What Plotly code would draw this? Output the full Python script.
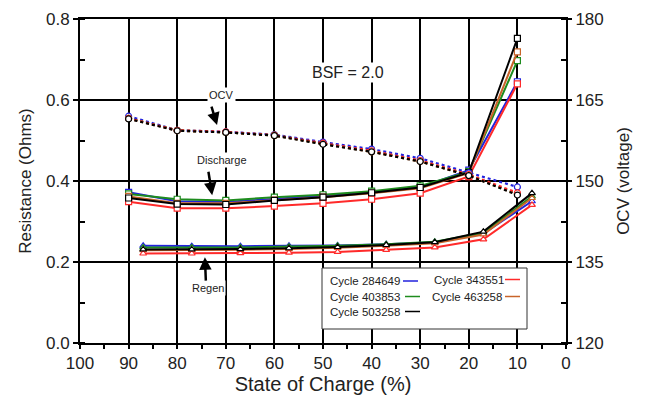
import plotly.graph_objects as go

soc_dis = [90, 80, 70, 60, 50, 40, 30, 20, 10]
soc_regen = [87, 77, 67, 57, 47, 37, 27, 17, 7]
cycles = ["Cycle 284649", "Cycle 343551", "Cycle 403853", "Cycle 463258", "Cycle 503258"]
colors = ["#2222dd", "#ff2a2a", "#1e8c1e", "#c8642a", "#000000"]

discharge = {
    "Cycle 284649": [0.372, 0.350, 0.348, 0.356, 0.363, 0.372, 0.384, 0.427, 0.645],
    "Cycle 343551": [0.349, 0.333, 0.333, 0.338, 0.345, 0.355, 0.370, 0.411, 0.640],
    "Cycle 403853": [0.368, 0.355, 0.352, 0.360, 0.366, 0.375, 0.388, 0.423, 0.697],
    "Cycle 463258": [0.362, 0.345, 0.345, 0.353, 0.360, 0.370, 0.382, 0.420, 0.719],
    "Cycle 503258": [0.358, 0.343, 0.342, 0.352, 0.360, 0.371, 0.384, 0.421, 0.752],
}
regen = {
    "Cycle 284649": [0.240, 0.239, 0.239, 0.240, 0.241, 0.244, 0.249, 0.270, 0.350],
    "Cycle 343551": [0.221, 0.221, 0.222, 0.223, 0.225, 0.230, 0.236, 0.256, 0.341],
    "Cycle 403853": [0.236, 0.236, 0.236, 0.238, 0.240, 0.244, 0.250, 0.272, 0.362],
    "Cycle 463258": [0.229, 0.229, 0.230, 0.232, 0.235, 0.240, 0.246, 0.268, 0.358],
    "Cycle 503258": [0.231, 0.231, 0.232, 0.234, 0.237, 0.242, 0.249, 0.275, 0.370],
}
ocv = {
    "Cycle 284649": [162.0, 159.4, 159.1, 158.6, 157.2, 155.9, 154.2, 151.5, 148.9],
    "Cycle 343551": [161.6, 159.4, 159.1, 158.5, 157.0, 155.6, 153.8, 151.2, 147.8],
    "Cycle 403853": [161.6, 159.4, 159.0, 158.5, 156.9, 155.5, 153.7, 151.1, 147.6],
    "Cycle 463258": [161.6, 159.3, 159.0, 158.4, 156.9, 155.4, 153.6, 151.0, 147.5],
    "Cycle 503258": [161.5, 159.3, 159.0, 158.4, 156.8, 155.4, 153.6, 151.0, 147.4],
}

x_ticks = [100, 90, 80, 70, 60, 50, 40, 30, 20, 10, 0]
y_ticks = [0.0, 0.2, 0.4, 0.6, 0.8]
y2_ticks = [120, 135, 150, 165, 180]

FONT = "Liberation Sans, Arial, Helvetica, sans-serif"

fig = go.Figure()

order = [0, 2, 3, 1, 4]
for i in order:
    c = cycles[i]
    col = colors[i]
    fig.add_trace(go.Scatter(
        x=soc_dis, y=ocv[c], yaxis="y2", mode="lines+markers",
        line=dict(color=col, width=2.2, dash="dot"),
        marker=dict(symbol="circle", size=6, color="white", line=dict(color=col, width=1.2)),
        showlegend=False))
for i in order:
    c = cycles[i]
    col = colors[i]
    fig.add_trace(go.Scatter(
        x=soc_dis, y=discharge[c], mode="lines+markers",
        line=dict(color=col, width=2),
        marker=dict(symbol="square", size=6, color="white", line=dict(color=col, width=1.2)),
        showlegend=False))
    fig.add_trace(go.Scatter(
        x=soc_regen, y=regen[c], mode="lines+markers",
        line=dict(color=col, width=2),
        marker=dict(symbol="triangle-up", size=6, color="white", line=dict(color=col, width=1.2)),
        showlegend=False))

# Text labels
txt = dict(font=dict(family=FONT, size=11, color="#222"), showarrow=False,
           bgcolor="white", borderpad=1)
fig.add_annotation(x=70.8, y=0.612, text="OCV", **txt)
fig.add_annotation(x=70.8, y=0.452, text="Discharge", **txt)
fig.add_annotation(x=73.7, y=0.136, text="Regen", **txt)
fig.add_annotation(x=44.9, y=0.667, text="BSF = 2.0",
                   font=dict(family=FONT, size=16, color="#222"), showarrow=False,
                   bgcolor="white", borderpad=1)

arr = dict(text="", showarrow=True, arrowhead=2, arrowsize=1, arrowwidth=2.5, arrowcolor="black")
fig.add_annotation(x=71.8, y=0.538, ax=-6, ay=-20, **arr)
fig.add_annotation(x=72.8, y=0.365, ax=-4, ay=-25, **arr)
fig.add_annotation(x=74.3, y=0.212, ax=1, ay=25, **arr)

# Manual legend (paper coordinates; plot area 80..566 x 19..343 px)
def px(xp):
    return (xp - 80) / 486.0
def py(yp):
    return (343 - yp) / 324.0

fig.add_shape(type="rect", xref="paper", yref="paper",
              x0=px(322), x1=px(527), y0=py(329), y1=py(268),
              line=dict(color="#333", width=1), fillcolor="white", layer="above")
leg_items = [
    ("Cycle 284649", colors[0], 328, 281, 403, 418),
    ("Cycle 403853", colors[2], 328, 296.5, 405, 420),
    ("Cycle 503258", colors[4], 328, 311.5, 405, 420),
    ("Cycle 343551", colors[1], 432, 279.5, 505, 520),
    ("Cycle 463258", colors[3], 430, 296.5, 505, 520),
]
for name, col, tx, ty, lx0, lx1 in leg_items:
    fig.add_annotation(xref="paper", yref="paper", x=px(tx), y=py(ty), text=name,
                       xanchor="left", yanchor="middle", showarrow=False,
                       font=dict(family=FONT, size=11.5, color="#222"))
    fig.add_shape(type="line", xref="paper", yref="paper",
                  x0=px(lx0), x1=px(lx1), y0=py(ty), y1=py(ty),
                  line=dict(color=col, width=1.5), layer="above")

fig.update_layout(
    width=649, height=397,
    margin=dict(l=80, r=83, t=19, b=54),
    paper_bgcolor="white", plot_bgcolor="white",
    font=dict(family=FONT, size=14, color="#222"),
    showlegend=False,
    xaxis=dict(
        range=[100, 0], tickmode="array", tickvals=x_ticks,
        ticktext=[str(v) for v in x_ticks], automargin=False,
        showgrid=True, gridcolor="black", gridwidth=2,
        showline=True, linecolor="black", linewidth=2, mirror=True,
        ticks="outside", ticklen=4, tickwidth=1.5, tickcolor="black",
        minor=dict(dtick=5, tick0=0, ticks="outside", ticklen=4, tickwidth=1.5,
                   tickcolor="black", showgrid=False),
        zeroline=False,
        title=dict(text="State of Charge (%)", font=dict(size=20), standoff=5),
        tickfont=dict(size=17),
    ),
    yaxis=dict(
        range=[0, 0.8], tickmode="array", tickvals=y_ticks,
        ticktext=["0.0", "0.2", "0.4", "0.6", "0.8"], automargin=False,
        showgrid=True, gridcolor="black", gridwidth=2,
        showline=True, linecolor="black", linewidth=2, mirror=True,
        ticks="outside", ticklen=5, tickwidth=1.5, tickcolor="black",
        minor=dict(dtick=0.1, tick0=0, ticks="inside", ticklen=5, tickwidth=1.5,
                   tickcolor="black", showgrid=False),
        zeroline=False,
        title=dict(text="Resistance (Ohms)", font=dict(size=17), standoff=10),
        tickfont=dict(size=17),
    ),
    yaxis2=dict(
        range=[120, 180], overlaying="y", side="right", tickmode="array",
        tickvals=y2_ticks, ticktext=[str(v) for v in y2_ticks], automargin=False,
        showgrid=False, showline=False,
        ticks="outside", ticklen=5, tickwidth=1.5, tickcolor="black",
        minor=dict(dtick=7.5, tick0=120, ticks="inside", ticklen=5, tickwidth=1.5,
                   tickcolor="black", showgrid=False),
        zeroline=False,
        title=dict(text="OCV (voltage)", font=dict(size=17), standoff=14),
        tickfont=dict(size=17),
    ),
)

fig.write_html("out.html", config={"displayModeBar": False},
               post_script="document.body.style.margin='0';")
